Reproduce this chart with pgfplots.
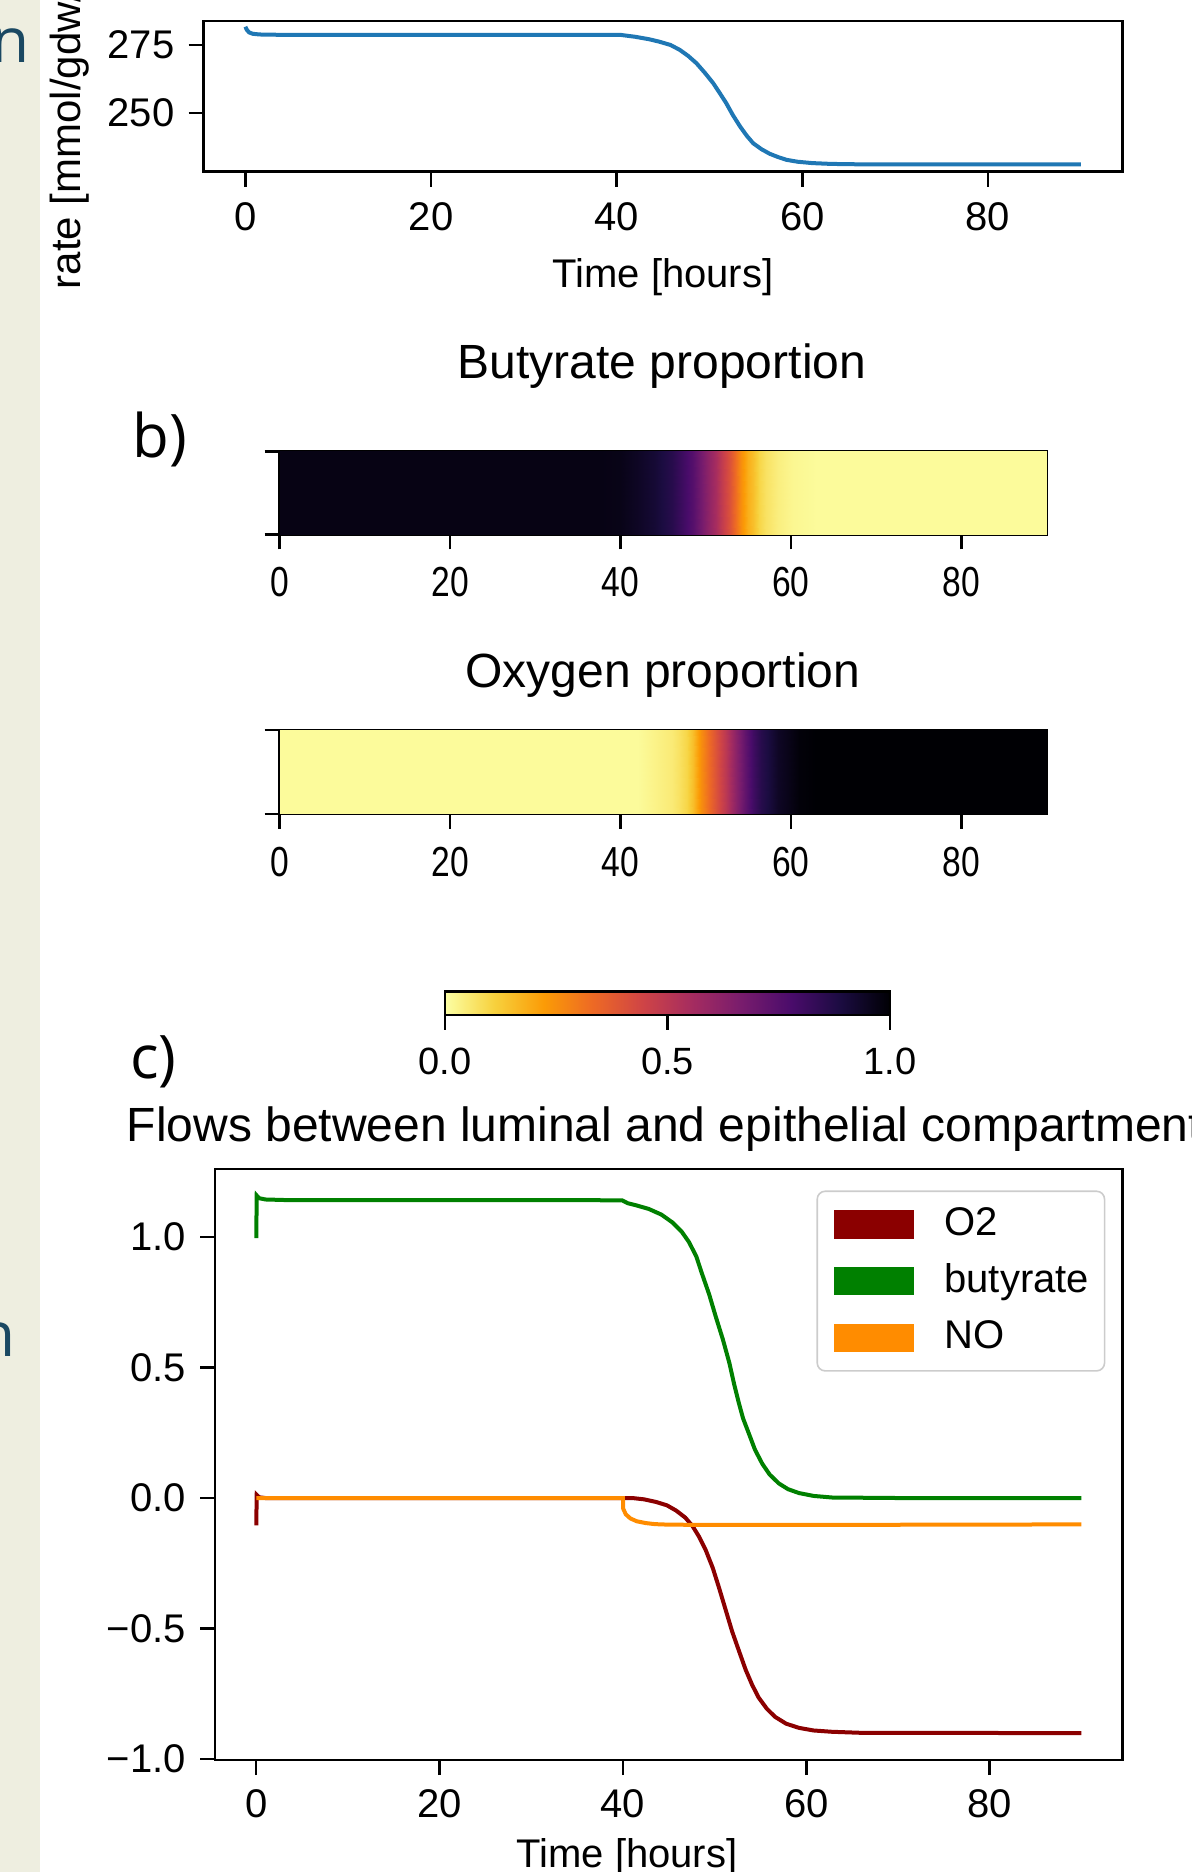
\documentclass[border=0pt]{standalone}
\usepackage{pgfplots}
\pgfplotsset{compat=1.18}
\usepackage{fontspec}
\setmainfont{Liberation Sans}
\newfontfamily\slidefont{Open Sans}
\definecolor{slidebeige}{RGB}{238,238,224}
\definecolor{slideteal}{RGB}{26,72,98}
\definecolor{mplblue}{HTML}{1F77B4}
\definecolor{odarkred}{HTML}{8B0000}
\definecolor{ogreen}{HTML}{008000}
\definecolor{oorange}{HTML}{FF8C00}
\newcommand{\sq}[1]{\scalebox{0.8}[1]{#1}}
\pgfplotsset{
  colormap={infr}{rgb255=(252,255,164) rgb255=(247,209,61) rgb255=(251,155,6) rgb255=(237,105,37) rgb255=(207,68,70) rgb255=(165,44,96) rgb255=(120,28,109) rgb255=(74,12,107) rgb255=(27,12,65) rgb255=(0,0,4)},
  base/.style={scale only axis, axis line style={line width=0.6pt}, tick style={black, line width=0.6pt},
    major tick length=3.75pt, tick align=outside, xtick pos=left, ytick pos=left,
    /pgf/number format/assume math mode=true,
    tick label style={font=\fontsize{10}{12}\selectfont}},
}
\begin{document}
\begin{tikzpicture}
\fill[slidebeige] (0pt,0pt) rectangle (10pt,468pt);
\node[anchor=base east, inner sep=0pt, text=slideteal, font=\slidefont\fontsize{15.5}{18}\selectfont] at (7.5pt,452.25pt) {n};
\node[anchor=base east, inner sep=0pt, text=slideteal, font=\slidefont\fontsize{15.5}{18}\selectfont] at (4pt,128.8pt) {n};

% ---------- panel a ----------
\begin{axis}[base, at={(50.9pt,425.1pt)}, anchor=south west, width=229.75pt, height=37.65pt,
  xmin=-4.5, xmax=94.5, ymin=228.6, ymax=283.8, xtick={0,20,40,60,80}, ytick={250,275},
  xticklabel style={yshift=-0.5pt}]
\addplot[mplblue, line width=1pt] coordinates {
(0,281.7) (0.15,280.6) (0.4,279.6) (0.8,279.1) (1.5,278.85) (3,278.75) (10,278.7) (40.5,278.66)
(42,278.0) (43.5,277.1) (44.6,276.2) (45.8,275.0) (46.8,273.2) (47.7,271.0) (48.6,268.3)
(49.5,264.8) (50.4,261.0) (51.1,257.4) (51.8,253.7) (52.5,249.4) (53.3,245.1) (54.0,241.8)
(54.7,239.0) (55.6,236.8) (56.5,235.1) (57.4,233.9) (58.3,232.9) (59.5,232.2) (61.1,231.7)
(62.8,231.45) (64.7,231.3) (70,231.2) (90,231.2)};
\end{axis}
\node[rotate=90, anchor=base west, inner sep=0pt, font=\fontsize{10.5}{12}\selectfont] at (20pt,395.5pt) {rate [mmol/gdw/h]};
\node[anchor=base, inner sep=0pt, font=\fontsize{10}{12}\selectfont] at (165.75pt,396.1pt) {Time [hours]};

% ---------- panel b ----------
\node[anchor=base west, inner sep=0pt, font=\slidefont\fontsize{15}{18}\selectfont] at (33pt,353.6pt) {b)};
\node[anchor=base, inner sep=0pt, font=\fontsize{12}{14}\selectfont] at (165.5pt,373.25pt) {Butyrate proportion};
\begin{axis}[base, at={(69.9pt,334.4pt)}, anchor=south west, width=191.75pt, height=20.75pt,
  xmin=0, xmax=90, ymin=0, ymax=1, xtick={0,20,40,60,80},
  xticklabels={\sq{0},\sq{20},\sq{40},\sq{60},\sq{80}}, ytick={0,1}, yticklabels={},
  colormap name=infr, point meta min=0, point meta max=1,
  tick label style={font=\fontsize{10.5}{12}\selectfont}, xticklabel style={yshift=-1pt}]
\addplot[surf, shader=interp, mesh/rows=2, point meta=\thisrow{v}] table {
x y v
0 0 0.97
38 0 0.97
40 0 0.965
42 0 0.94
44 0 0.91
46 0 0.86
47.5 0 0.80
48.5 0 0.75
49.5 0 0.68
50.5 0 0.60
51.2 0 0.55
52 0 0.47
52.8 0 0.40
53.5 0 0.32
54.2 0 0.25
55 0 0.18
55.5 0 0.15
56.3 0 0.10
57.1 0 0.07
58.5 0 0.04
60.2 0 0.02
63 0 0.01
90 0 0.01
0 1 0.97
38 1 0.97
40 1 0.965
42 1 0.94
44 1 0.91
46 1 0.86
47.5 1 0.80
48.5 1 0.75
49.5 1 0.68
50.5 1 0.60
51.2 1 0.55
52 1 0.47
52.8 1 0.40
53.5 1 0.32
54.2 1 0.25
55 1 0.18
55.5 1 0.15
56.3 1 0.10
57.1 1 0.07
58.5 1 0.04
60.2 1 0.02
63 1 0.01
90 1 0.01
};
\end{axis}

\node[anchor=base, inner sep=0pt, font=\fontsize{12}{14}\selectfont] at (165.7pt,296pt) {Oxygen proportion};
\begin{axis}[base, at={(69.9pt,264.5pt)}, anchor=south west, width=191.75pt, height=21pt,
  xmin=0, xmax=90, ymin=0, ymax=1, xtick={0,20,40,60,80},
  xticklabels={\sq{0},\sq{20},\sq{40},\sq{60},\sq{80}}, ytick={0,1}, yticklabels={},
  colormap name=infr, point meta min=0, point meta max=1,
  tick label style={font=\fontsize{10.5}{12}\selectfont}, xticklabel style={yshift=-1pt},
  colorbar horizontal,
  colorbar style={scale only axis, at={(parent axis.south west)}, anchor=north west,
    xshift=41.35pt, yshift=-35.85pt, width=111.25pt, height=5.8pt,
    xtick={0,0.5,1}, xticklabels={0.0,0.5,1.0}, tick align=outside, major tick length=3.75pt,
    tick style={black, line width=0.6pt}, axis line style={line width=0.6pt},
    xticklabel pos=lower, xtick pos=left,
    tick label style={font=\fontsize{9.5}{11}\selectfont}, xticklabel style={yshift=-1pt}}]
\addplot[surf, shader=interp, mesh/rows=2, point meta=\thisrow{v}] table {
x y v
0 0 0.01
42 0 0.01
44 0 0.03
46 0 0.05
46.9 0 0.07
47.8 0 0.10
48.5 0 0.15
49.5 0 0.25
50.3 0 0.32
51.2 0 0.40
52.4 0 0.50
53.6 0 0.62
54.6 0 0.72
55.5 0 0.80
56.5 0 0.86
57.5 0 0.90
58.5 0 0.94
59.5 0 0.96
61 0 0.99
63 0 1.0
90 0 1.0
0 1 0.01
42 1 0.01
44 1 0.03
46 1 0.05
46.9 1 0.07
47.8 1 0.10
48.5 1 0.15
49.5 1 0.25
50.3 1 0.32
51.2 1 0.40
52.4 1 0.50
53.6 1 0.62
54.6 1 0.72
55.5 1 0.80
56.5 1 0.86
57.5 1 0.90
58.5 1 0.94
59.5 1 0.96
61 1 0.99
63 1 1.0
90 1 1.0
};
\end{axis}

% ---------- panel c ----------
\node[anchor=base west, inner sep=0pt, font=\slidefont\fontsize{15}{18}\selectfont] at (32.3pt,198.4pt) {c)};
\node[anchor=base west, inner sep=0pt, font=\fontsize{12}{14}\selectfont] at (31.5pt,182.6pt) {Flows between luminal and epithelial compartments};
\begin{axis}[base, at={(53.75pt,28pt)}, anchor=south west, width=226.9pt, height=147.7pt,
  xmin=-4.5, xmax=94.5, ymin=-1.003, ymax=1.259, xtick={0,20,40,60,80},
  ytick={-1,-0.5,0,0.5,1}, yticklabels={−1.0,−0.5,0.0,0.5,1.0},
  legend style={at={(axis description cs:0.981,0.964)}, anchor=north east, draw=black!20,
    rounded corners=2pt, fill=white, fill opacity=0.8, text opacity=1,
    font=\fontsize{10}{12}\selectfont, inner xsep=1.9pt, inner ysep=2pt, row sep=1.6pt,
    /tikz/every odd column/.append style={column sep=5.6pt}},
  legend cell align=left,
  legend image code/.code={\path (-1.8pt,0pt); \fill[#1, draw=none, fill opacity=1, sharp corners] (0pt,-3.6pt) rectangle (20pt,3.6pt);}]
\addplot[odarkred, line width=1pt] coordinates {
(0,-0.105) (0.05,0.012) (0.3,0.003) (1,0) (41.0,0) (42.3,-0.005) (43.6,-0.015) (44.8,-0.028)
(45.8,-0.048) (46.8,-0.075) (47.6,-0.108) (48.3,-0.148) (49.0,-0.197) (49.8,-0.268) (50.5,-0.346)
(51.2,-0.428) (51.9,-0.510) (52.7,-0.590) (53.4,-0.659) (54.1,-0.716) (54.8,-0.764) (55.7,-0.807)
(56.6,-0.838) (57.8,-0.864) (59.2,-0.880) (60.8,-0.890) (62.8,-0.895) (66,-0.899) (90,-0.9)};
\addlegendentry{O2}
\addplot[ogreen, line width=1pt] coordinates {
(0,0.995) (0.05,1.158) (0.3,1.148) (1,1.143) (3,1.141) (39.9,1.140) (40.5,1.129) (41.5,1.120)
(42.8,1.107) (44.2,1.085) (45.4,1.055) (46.4,1.020) (47.2,0.980) (48.0,0.925) (48.6,0.861)
(49.4,0.780) (50.1,0.697) (50.9,0.607) (51.6,0.518) (52.1,0.440) (52.6,0.369) (53.1,0.305)
(53.7,0.250) (54.4,0.185) (55.2,0.131) (56.0,0.090) (57.0,0.056) (58.0,0.034) (59.2,0.019)
(60.8,0.008) (62.8,0.002) (70,0) (90,0)};
\addlegendentry{butyrate}
\addplot[oorange, line width=1pt] coordinates {
(0,0) (40,0) (40.02,-0.04) (40.3,-0.062) (40.8,-0.078) (41.5,-0.089) (42.5,-0.096) (43.5,-0.1)
(45,-0.102) (50,-0.103) (60,-0.103) (75,-0.102) (90,-0.101)};
\addlegendentry{NO}
\end{axis}
\node[anchor=north, inner sep=0pt, font=\fontsize{10}{12}\selectfont] at (156.75pt,8.5pt) {Time [hours]};

\pgfresetboundingbox
\path[use as bounding box] (0pt,0pt) rectangle (297.75pt,468pt);
\end{tikzpicture}
\end{document}
